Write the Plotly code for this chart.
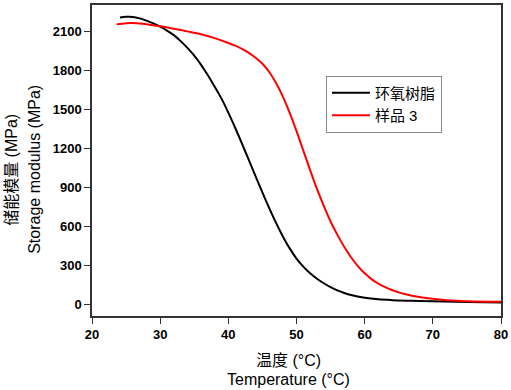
import plotly.graph_objects as go

# Data
epoxy_temp = [24.1, 25, 26, 27, 28, 29, 30, 31, 32, 33, 34, 35, 36, 37, 38, 39, 40, 41, 42, 43, 44, 45,
              46, 47, 48, 49, 50, 51, 52, 53, 54, 55, 56, 57, 58, 60, 62, 64, 67, 70, 75, 80]
epoxy_mod = [2204, 2209, 2208, 2197, 2180, 2158, 2133, 2103, 2068, 2022, 1970, 1910, 1840, 1760, 1672, 1580,
             1472, 1356, 1234, 1108, 982, 858, 738, 624, 520, 428, 350, 288, 237, 195, 160, 130, 105, 85, 69,
             48, 36, 30, 25, 21, 16, 12]

sample_temp = [23.6, 25, 26, 27, 28, 30, 32, 34, 36, 38, 40, 41, 42, 43, 44, 45, 46, 47, 48, 49, 50, 51,
               52, 53, 54, 55, 56, 57, 58, 59, 60, 61, 62, 63, 64, 65, 66, 68, 70, 72, 75, 80]
sample_mod = [2151, 2160, 2161, 2158, 2152, 2136, 2117, 2097, 2075, 2045, 2008, 1987, 1962, 1932, 1895, 1848,
              1785, 1700, 1595, 1470, 1330, 1180, 1030, 885, 755, 635, 532, 440, 360, 292, 236, 192, 157,
              130, 108, 90, 76, 55, 40, 30, 22, 18]

series_names = ["环氧树脂", "样品 3"]
x_ticks = [20, 30, 40, 50, 60, 70, 80]
y_ticks = [0, 300, 600, 900, 1200, 1500, 1800, 2100]

FONT = "Liberation Sans, Arial, Noto Sans CJK SC, sans-serif"

fig = go.Figure()
fig.add_trace(go.Scatter(x=epoxy_temp, y=epoxy_mod, mode="lines", name=series_names[0],
                         line=dict(color="black", width=2, shape="spline", smoothing=1.0)))
fig.add_trace(go.Scatter(x=sample_temp, y=sample_mod, mode="lines", name=series_names[1],
                         line=dict(color="#ff0000", width=2, shape="spline", smoothing=1.0)))

axis_common = dict(showline=True, linecolor="#333333", linewidth=1.5, mirror=True,
                   ticks="outside", ticklen=6, tickwidth=1.2, tickcolor="#333333",
                   showgrid=False, zeroline=False,
                   tickfont=dict(family=FONT, size=13, color="black", weight="bold"))

fig.update_xaxes(range=[20, 80], tickvals=x_ticks, **axis_common)
fig.update_yaxes(range=[-92, 2300], tickvals=y_ticks, **axis_common)

fig.update_layout(
    width=511, height=390,
    margin=dict(l=92, r=9, t=3, b=74),
    plot_bgcolor="white", paper_bgcolor="white",
    showlegend=True,
    legend=dict(x=0.572, y=0.773, xanchor="left", yanchor="top",
                bordercolor="#888888", borderwidth=1, bgcolor="white",
                font=dict(family=FONT, size=15, color="black"),
                tracegroupgap=0, itemwidth=38),
    annotations=[
        dict(text="温度 (°C)", xref="paper", yref="paper", x=0.48, y=0, yshift=-44,
             xanchor="center", yanchor="middle", showarrow=False,
             font=dict(family=FONT, size=16, color="black")),
        dict(text="Temperature (°C)", xref="paper", yref="paper", x=0.48, y=0, yshift=-63,
             xanchor="center", yanchor="middle", showarrow=False,
             font=dict(family=FONT, size=16, color="black")),
        dict(text="储能模量 (MPa)", xref="paper", yref="paper", x=0, xshift=-80, y=0.47,
             xanchor="center", yanchor="middle", showarrow=False, textangle=-90,
             font=dict(family=FONT, size=16, color="black")),
        dict(text="Storage modulus (MPa)", xref="paper", yref="paper", x=0, xshift=-57, y=0.47,
             xanchor="center", yanchor="middle", showarrow=False, textangle=-90,
             font=dict(family=FONT, size=16, color="black")),
    ],
)

fig.write_html("out.html", config={"displayModeBar": False},
               post_script="document.body.style.margin='0';")
